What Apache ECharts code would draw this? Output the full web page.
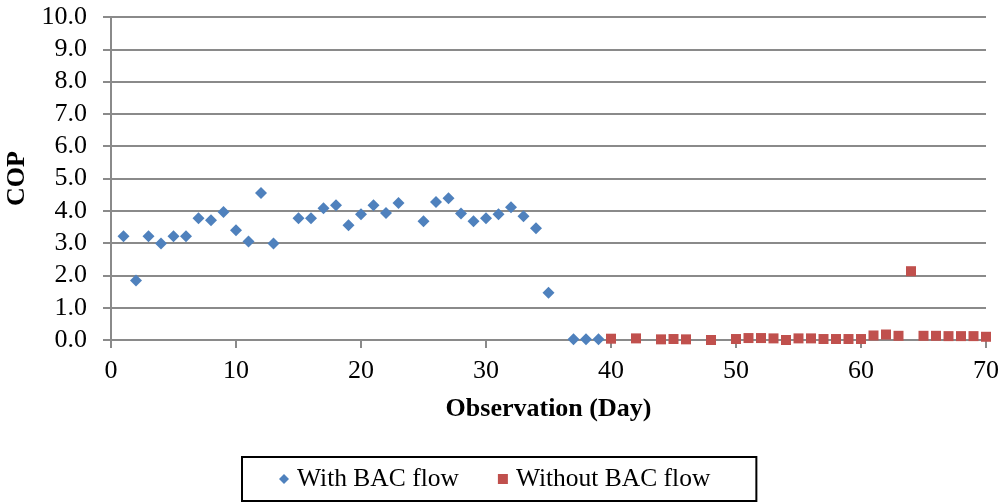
<!DOCTYPE html>
<html><head><meta charset="utf-8">
<script src="https://cdn.jsdelivr.net/npm/echarts@6/dist/echarts.min.js"></script>
<style>html,body{margin:0;padding:0;background:#fff}#c{width:1001px;height:503px}</style>
</head><body><div id="c"></div>
<script>
const withDays = [1,2,3,4,5,6,7,8,9,10,11,12,13,15,16,17,18,19,20,21,22,23,25,26,27,28,29,30,31,32,33,34,35,37,38,39];
const withCOP  = [3.21,1.84,3.21,2.99,3.21,3.21,3.77,3.71,3.96,3.40,3.05,4.55,2.99,3.77,3.77,4.08,4.17,3.55,3.89,4.17,3.93,4.24,3.68,4.27,4.39,3.92,3.68,3.77,3.89,4.11,3.83,3.46,1.46,0.02,0.02,0.02];
const withoutDays = [40,42,44,45,46,48,50,51,52,53,54,55,56,57,58,59,60,61,62,63,64,65,66,67,68,69,70];
const withoutCOP  = [0.04,0.05,0.02,0.03,0.02,0.0,0.03,0.06,0.06,0.05,0.0,0.05,0.05,0.03,0.03,0.03,0.03,0.14,0.17,0.13,2.13,0.13,0.13,0.12,0.12,0.12,0.10];
const yTicks = [0,1,2,3,4,5,6,7,8,9,10];
const xTicks = [0,10,20,30,40,50,60,70];

const font = '"Liberation Serif","Times New Roman",serif';
const chart = echarts.init(document.getElementById('c'));
chart.setOption({
  animation:false,
  textStyle:{fontFamily:font},
  grid:{left:111,right:15,top:17,bottom:163,containLabel:false,outerBoundsMode:'none'},
  xAxis:{type:'value',min:xTicks[0],max:xTicks[xTicks.length-1],interval:10,
    name:'Observation (Day)',nameLocation:'middle',nameGap:56,
    nameTextStyle:{fontFamily:font,fontSize:26,fontWeight:'bold',color:'#000'},
    axisLine:{show:true,lineStyle:{color:'#8a8a8a',width:2}},
    axisTick:{show:true,length:8,lineStyle:{color:'#8a8a8a',width:2}},
    axisLabel:{fontFamily:font,fontSize:26,color:'#000',margin:18},
    splitLine:{show:false}},
  yAxis:{type:'value',min:yTicks[0],max:yTicks[yTicks.length-1],interval:1,
    name:'COP',nameLocation:'middle',nameGap:79,nameRotate:90,
    nameTextStyle:{fontFamily:font,fontSize:26,fontWeight:'bold',color:'#000'},
    axisLine:{show:true,lineStyle:{color:'#8a8a8a',width:2}},
    axisTick:{show:true,length:8,lineStyle:{color:'#8a8a8a',width:2}},
    axisLabel:{fontFamily:font,fontSize:26,color:'#000',margin:24,formatter:v=>v.toFixed(1)},
    splitLine:{show:true,lineStyle:{color:'#8a8a8a',width:2}}},
  legend:{top:457,left:242,
    itemGap:39,itemWidth:10,itemHeight:10,
    padding:[9,46,9,37],
    borderColor:'#000',borderWidth:2,
    textStyle:{fontFamily:font,fontSize:25.5,color:'#000',padding:[0,0,0,3]},
    data:[{name:'With BAC flow',icon:'diamond'},{name:'Without BAC flow',icon:'rect'}]},
  series:[
    {name:'With BAC flow',type:'scatter',symbol:'diamond',symbolSize:12,
      itemStyle:{color:'#4F81BD',opacity:1},data:withDays.map((d,i)=>[d,withCOP[i]])},
    {name:'Without BAC flow',type:'scatter',symbol:'rect',symbolSize:10,
      itemStyle:{color:'#C0504D',opacity:1},data:withoutDays.map((d,i)=>[d,withoutCOP[i]])}
  ]
});
</script></body></html>
